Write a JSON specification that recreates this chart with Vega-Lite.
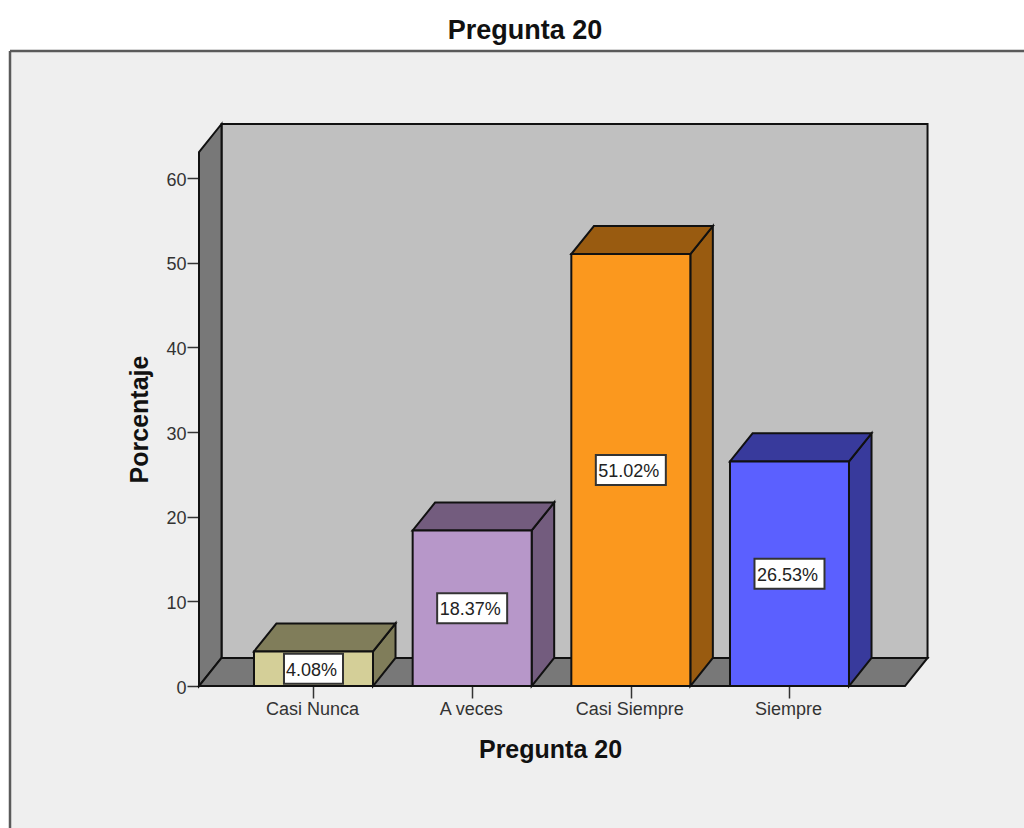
{
  "$schema": "https://vega.github.io/schema/vega-lite/v6.json",
  "autosize": "none",
  "width": 1014,
  "height": 777,
  "padding": {"left": 10, "top": 51, "right": 0, "bottom": 0},
  "background": "#ffffff",
  "title": {"text": "Pregunta 20", "font": "Liberation Sans", "fontSize": 27, "fontWeight": "bold", "color": "#111111", "anchor": "middle", "dx": 8, "offset": 1},
  "config": {"view": {"fill": "#efefef", "stroke": null}},
  "params": [
    {"name": "fondoX", "value": 0.142},
    {"name": "fondoY", "value": 3.31},
    {"name": "muroIzq", "value": 0.2784},
    {"name": "muroDer", "value": 4.728},
    {"name": "muroAlto", "value": 63.07},
    {"name": "mediaBarra", "value": 0.375}
  ],
  "datasets": {
    "respuestas": [
      {"categoria": "Casi Nunca", "orden": 1, "porcentaje": 4.08},
      {"categoria": "A veces", "orden": 2, "porcentaje": 18.37},
      {"categoria": "Casi Siempre", "orden": 3, "porcentaje": 51.02},
      {"categoria": "Siempre", "orden": 4, "porcentaje": 26.53}
    ],
    "caras": [{"lado": 0}, {"lado": 1}]
  },
  "encoding": {
    "x": {
      "field": "px",
      "type": "quantitative",
      "scale": {"domain": [-0.9128, 5.478], "nice": false, "zero": false},
      "axis": {
        "orient": "bottom",
        "offset": -142,
        "values": [1, 2, 3, 4],
        "labelExpr": "datum.value == 1 ? 'Casi Nunca' : datum.value == 2 ? 'A veces' : datum.value == 3 ? 'Casi Siempre' : 'Siempre'",
        "grid": false,
        "domain": false,
        "ticks": true,
        "tickSize": 12,
        "tickWidth": 1.5,
        "tickColor": "#333333",
        "labelFont": "Liberation Sans",
        "labelFontSize": 18,
        "labelColor": "#333333",
        "labelPadding": 2,
        "labelOffset": -1.5,
        "labelFlush": false,
        "labelOverlap": false,
        "title": "Pregunta 20",
        "titleFont": "Liberation Sans",
        "titleFontSize": 25,
        "titleFontWeight": "bold",
        "titleColor": "#111111",
        "titleX": 540,
        "titleY": 63,
        "titleBaseline": "middle"
      }
    },
    "y": {
      "field": "py",
      "type": "quantitative",
      "scale": {"domain": [-16.77, 75.0], "nice": false, "zero": false},
      "axis": {
        "orient": "left",
        "offset": -189,
        "values": [0, 10, 20, 30, 40, 50, 60],
        "grid": false,
        "domain": false,
        "ticks": true,
        "tickSize": 12,
        "tickWidth": 1.5,
        "tickColor": "#333333",
        "labelFont": "Liberation Sans",
        "labelFontSize": 18,
        "labelColor": "#333333",
        "labelPadding": 1,
        "labelOffset": 2,
        "title": "Porcentaje",
        "titleFont": "Liberation Sans",
        "titleFontSize": 25,
        "titleFontWeight": "bold",
        "titleColor": "#111111",
        "titleX": -60,
        "titleY": 368,
        "titleBaseline": "middle",
        "titleAlign": "center"
      }
    }
  },
  "layer": [
    {
      "data": {"name": "caras"},
      "transform": [
        {"calculate": "-0.9128", "as": "px"},
        {"calculate": "datum.lado == 0 ? -16.77 : 75.0", "as": "py"}
      ],
      "mark": {"type": "line", "stroke": "#5a5a5a", "strokeWidth": 2.5}
    },
    {
      "data": {"name": "caras"},
      "transform": [
        {"calculate": "datum.lado == 0 ? -0.9128 : 5.478", "as": "px"},
        {"calculate": "75.0", "as": "py"}
      ],
      "mark": {"type": "line", "stroke": "#5a5a5a", "strokeWidth": 2.5}
    },
    {
      "data": {"name": "caras"},
      "transform": [
        {"filter": "datum.lado == 0"},
        {"calculate": "muroIzq + fondoX", "as": "px"},
        {"calculate": "muroDer + fondoX", "as": "px2"},
        {"calculate": "fondoY", "as": "py"},
        {"calculate": "muroAlto + fondoY", "as": "py2"}
      ],
      "mark": {"type": "rect", "fill": "#c0c0c0", "stroke": "#111111", "strokeWidth": 2},
      "encoding": {"x2": {"field": "px2"}, "y2": {"field": "py2"}}
    },
    {
      "data": {"name": "caras"},
      "transform": [
        {"calculate": "muroIzq + datum.lado * fondoX", "as": "px"},
        {"calculate": "datum.lado * fondoY", "as": "py"},
        {"calculate": "muroAlto + datum.lado * fondoY", "as": "py2"}
      ],
      "mark": {"type": "area", "orient": "vertical", "fill": "#787878", "stroke": "#111111", "strokeWidth": 2},
      "encoding": {"y2": {"field": "py2"}}
    },
    {
      "data": {"name": "caras"},
      "transform": [
        {"calculate": "muroIzq + datum.lado * fondoX", "as": "px"},
        {"calculate": "muroDer + datum.lado * fondoX", "as": "px2"},
        {"calculate": "datum.lado * fondoY", "as": "py"}
      ],
      "mark": {"type": "area", "orient": "horizontal", "fill": "#787878", "stroke": "#111111", "strokeWidth": 2},
      "encoding": {"x2": {"field": "px2"}}
    },
    {
      "data": {"name": "respuestas"},
      "transform": [
        {"calculate": "[0, 1]", "as": "lado"},
        {"flatten": ["lado"]},
        {"calculate": "datum.orden + mediaBarra + datum.lado * fondoX", "as": "px"},
        {"calculate": "datum.lado * fondoY", "as": "py"},
        {"calculate": "datum.porcentaje + datum.lado * fondoY", "as": "py2"}
      ],
      "mark": {"type": "area", "orient": "vertical", "stroke": "#111111", "strokeWidth": 2},
      "encoding": {
        "y2": {"field": "py2"},
        "detail": {"field": "categoria"},
        "fill": {
          "field": "categoria",
          "type": "nominal",
          "legend": null,
          "scale": {"domain": ["Casi Nunca", "A veces", "Casi Siempre", "Siempre"], "range": ["#807d5a", "#735c7e", "#995b10", "#383a9c"]}
        }
      }
    },
    {
      "data": {"name": "respuestas"},
      "transform": [
        {"calculate": "[0, 1]", "as": "lado"},
        {"flatten": ["lado"]},
        {"calculate": "datum.orden - mediaBarra + datum.lado * fondoX", "as": "px"},
        {"calculate": "datum.orden + mediaBarra + datum.lado * fondoX", "as": "px2"},
        {"calculate": "datum.porcentaje + datum.lado * fondoY", "as": "py"}
      ],
      "mark": {"type": "area", "orient": "horizontal", "stroke": "#111111", "strokeWidth": 2},
      "encoding": {
        "x2": {"field": "px2"},
        "detail": {"field": "categoria"},
        "fill": {
          "field": "categoria",
          "type": "nominal",
          "legend": null,
          "scale": {"domain": ["Casi Nunca", "A veces", "Casi Siempre", "Siempre"], "range": ["#807d5a", "#735c7e", "#995b10", "#383a9c"]}
        }
      }
    },
    {
      "data": {"name": "respuestas"},
      "transform": [
        {"calculate": "datum.orden - mediaBarra", "as": "px"},
        {"calculate": "datum.orden + mediaBarra", "as": "px2"},
        {"calculate": "0", "as": "py"},
        {"calculate": "datum.porcentaje", "as": "py2"}
      ],
      "mark": {"type": "rect", "stroke": "#111111", "strokeWidth": 2},
      "encoding": {
        "x2": {"field": "px2"},
        "y2": {"field": "py2"},
        "fill": {
          "field": "categoria",
          "type": "nominal",
          "legend": null,
          "scale": {"domain": ["Casi Nunca", "A veces", "Casi Siempre", "Siempre"], "range": ["#d4cf98", "#b797c9", "#fb981e", "#5b60ff"]}
        }
      }
    },
    {
      "data": {"name": "respuestas"},
      "transform": [
        {"calculate": "datum.porcentaje < 10 ? 0.186 : 0.2206", "as": "mediaCaja"},
        {"calculate": "min(1.77, datum.porcentaje / 2)", "as": "altoCaja"},
        {"calculate": "datum.orden - datum.mediaCaja", "as": "px"},
        {"calculate": "datum.orden + datum.mediaCaja", "as": "px2"},
        {"calculate": "datum.porcentaje / 2 - datum.altoCaja", "as": "py"},
        {"calculate": "datum.porcentaje / 2 + datum.altoCaja", "as": "py2"}
      ],
      "mark": {"type": "rect", "fill": "#ffffff", "stroke": "#333333", "strokeWidth": 2},
      "encoding": {"x2": {"field": "px2"}, "y2": {"field": "py2"}}
    },
    {
      "data": {"name": "respuestas"},
      "transform": [
        {"calculate": "datum.orden", "as": "px"},
        {"calculate": "datum.porcentaje / 2", "as": "py"},
        {"calculate": "format(datum.porcentaje, '.2f') + '%'", "as": "etiqueta"}
      ],
      "mark": {"type": "text", "font": "Liberation Sans", "fontSize": 18, "color": "#222222", "align": "center", "baseline": "middle", "dx": -2, "dy": 2},
      "encoding": {"text": {"field": "etiqueta", "type": "nominal"}}
    }
  ],
  "resolve": {"scale": {"fill": "independent"}}
}
